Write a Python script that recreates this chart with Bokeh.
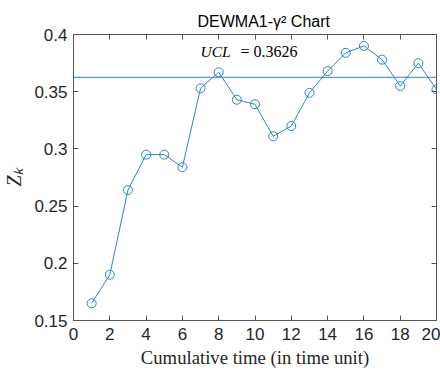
from bokeh.plotting import figure
from bokeh.models import LinearAxis, Range1d, Span, FixedTicker, CustomJSTickFormatter
from bokeh.core.properties import value
from bokeh.embed import file_html
from bokeh.resources import INLINE

t = list(range(1, 21))
z = [0.165, 0.190, 0.264, 0.295, 0.295, 0.284, 0.353, 0.367, 0.343, 0.339,
     0.311, 0.320, 0.349, 0.368, 0.384, 0.390, 0.378, 0.355, 0.375, 0.352]
ucl = 0.3626
title = "DEWMA1-\u03b3\u00b2 Chart"
xlabel = "Cumulative time (in time unit)"
ylabel = "Z\u2096"
xticks = list(range(0, 21, 2))
yticks = [0.15, 0.2, 0.25, 0.3, 0.35, 0.4]

blue = "#2a84cc"
axis_col = "#555555"
label_col = "#262626"

p = figure(width=440, height=370, output_backend="svg", toolbar_location=None,
           x_range=Range1d(0, 20), y_range=Range1d(0.15, 0.4),
           min_border_left=73, min_border_right=4, min_border_top=34, min_border_bottom=50)
p.title.text = title
p.title.align = "left"
p.title.text_font = "Liberation Sans"
p.title.text_font_size = "16px"
p.title.text_font_style = "normal"
p.title.text_color = "#000000"
p.title.standoff = 9
p.title.offset = 124

p.grid.visible = False
p.outline_line_color = axis_col
p.outline_line_width = 1
p.background_fill_color = "white"
p.border_fill_color = "white"

for ax in (p.xaxis[0], p.yaxis[0]):
    ax.major_tick_in = 5
    ax.major_tick_out = 0
    ax.minor_tick_line_color = None
    ax.axis_line_color = axis_col
    ax.major_tick_line_color = axis_col
    ax.major_label_text_font = "Liberation Sans"
    ax.major_label_text_font_size = "17px"
    ax.major_label_text_color = label_col
    ax.axis_label_text_font = "Liberation Serif"
    ax.axis_label_text_font_size = "18.7px"
    ax.axis_label_text_font_style = "normal"
    ax.axis_label_text_color = label_col

p.xaxis[0].ticker = FixedTicker(ticks=xticks)
p.yaxis[0].ticker = FixedTicker(ticks=yticks)
p.xaxis[0].axis_label = xlabel
p.xaxis[0].axis_label_standoff = 4
p.xaxis[0].major_label_standoff = 7
p.yaxis[0].axis_label = ylabel
p.yaxis[0].axis_label_text_font_style = "italic"
p.yaxis[0].axis_label_text_font_size = "20px"
p.yaxis[0].axis_label_standoff = 6
p.yaxis[0].major_label_standoff = 6
p.yaxis[0].formatter = CustomJSTickFormatter(code="return String(Math.round(tick*100)/100);")

blank = CustomJSTickFormatter(code="return '';")
top = LinearAxis(ticker=FixedTicker(ticks=xticks), formatter=blank,
                 major_tick_in=5, major_tick_out=0, minor_tick_line_color=None,
                 axis_line_color=axis_col, major_tick_line_color=axis_col,
                 major_label_text_font_size="1px", major_label_standoff=0)
right = LinearAxis(ticker=FixedTicker(ticks=yticks), formatter=blank,
                   major_tick_in=5, major_tick_out=0, minor_tick_line_color=None,
                   axis_line_color=axis_col, major_tick_line_color=axis_col,
                   major_label_text_font_size="1px", major_label_standoff=0)
p.add_layout(top, "above")
p.add_layout(right, "right")

p.add_layout(Span(location=ucl, dimension="width", line_color=blue, line_width=1))

p.line(t, z, line_color=blue, line_width=1)
p.scatter(t, z, marker="circle", size=9, fill_color=None, line_color=blue, line_width=1)

p.text(x=[7.0], y=[0.385], text=["UCL"], text_font=value("Liberation Serif"),
       text_font_style="italic", text_font_size="15.5px", text_color="#000000",
       text_baseline="middle", text_align="left")
p.text(x=[9.2], y=[0.385], text=["= 0.3626"], text_font=value("Liberation Serif"),
       text_font_size="16px", text_color="#000000",
       text_baseline="middle", text_align="left")

open("out.html", "w").write(file_html(p, INLINE))
